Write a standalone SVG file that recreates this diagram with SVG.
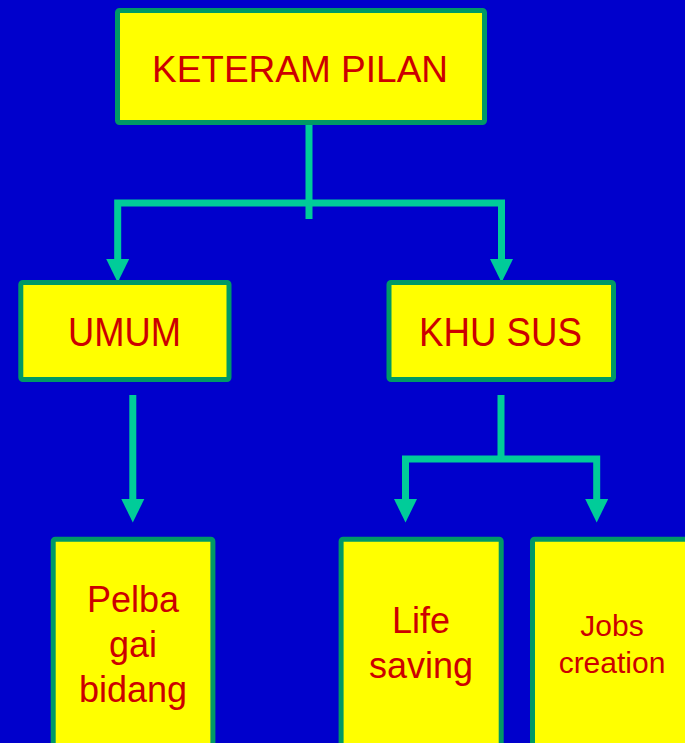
<svg xmlns="http://www.w3.org/2000/svg" width="685" height="743" viewBox="0 0 685 743">
<style>
.box{fill:#FFFF00;stroke:#009966;stroke-width:5;}
.lbl{font-family:"Liberation Sans",Arial,sans-serif;fill:#CC0000;text-anchor:middle;}
.con{fill:none;stroke:#00CC99;stroke-width:7;stroke-linejoin:miter;}
</style>
<defs>
<marker id="ah" markerUnits="userSpaceOnUse" markerWidth="24" markerHeight="24" viewBox="0 0 24 24" refX="0" refY="12" orient="auto">
<path d="M0,0.5 L23.5,12 L0,23.5 z" fill="#00CC99"/>
</marker>
</defs>
<rect x="0" y="0" width="685" height="743" fill="#0000CC"/>
<g id="connectors">
<path class="con" d="M309,125 V219"/>
<path class="con" d="M309,203 H117.7 V259" marker-end="url(#ah)"/>
<path class="con" d="M309,203 H501.5 V259" marker-end="url(#ah)"/>
<path class="con" d="M132.8,395 V499" marker-end="url(#ah)"/>
<path class="con" d="M501,395 V459"/>
<path class="con" d="M501,459 H405.5 V499" marker-end="url(#ah)"/>
<path class="con" d="M501,459 H596.7 V499" marker-end="url(#ah)"/>
</g>
<g id="keterampilan">
<rect class="box" x="117.5" y="10.5" width="367" height="112" rx="2"/>
<text class="lbl" x="300" y="82" font-size="37">KETERAM PILAN</text>
</g>
<g id="umum">
<rect class="box" x="20.8" y="282.5" width="208.2" height="97" rx="2"/>
<text class="lbl" x="124.5" y="345.5" font-size="40" textLength="113" lengthAdjust="spacingAndGlyphs">UMUM</text>
</g>
<g id="khusus">
<rect class="box" x="389" y="282.5" width="224.5" height="97" rx="2"/>
<text class="lbl" x="500.5" y="345.5" font-size="40" textLength="163" lengthAdjust="spacingAndGlyphs">KHU SUS</text>
</g>
<g id="pelbagai">
<rect class="box" x="53.2" y="539.2" width="159.7" height="230" rx="2"/>
<text class="lbl" x="133" y="611.7" font-size="36">Pelba</text>
<text class="lbl" x="133" y="656.7" font-size="36">gai</text>
<text class="lbl" x="133" y="701.7" font-size="36">bidang</text>
</g>
<g id="lifesaving">
<rect class="box" x="341.1" y="539.2" width="160.1" height="230" rx="2"/>
<text class="lbl" x="421" y="633.3" font-size="36">Life</text>
<text class="lbl" x="421" y="677.7" font-size="36">saving</text>
</g>
<g id="jobscreation">
<rect class="box" x="532.5" y="539.2" width="170" height="230" rx="2"/>
<text class="lbl" x="612" y="635.5" font-size="30">Jobs</text>
<text class="lbl" x="612" y="673.3" font-size="30">creation</text>
</g>
</svg>
